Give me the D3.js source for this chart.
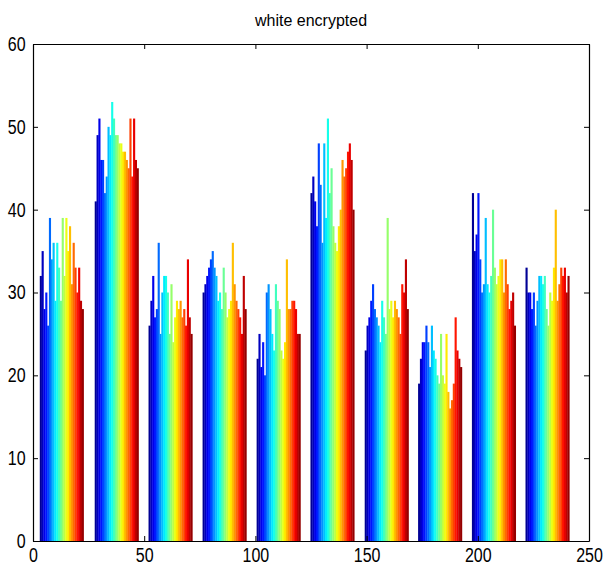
<!DOCTYPE html>
<html>
<head>
<meta charset="utf-8">
<script src="https://cdn.jsdelivr.net/npm/d3@7"></script>
<style>
  body { margin: 0; background: #fff; }
  text { font-family: "Liberation Sans", Arial, sans-serif; }
</style>
</head>
<body>
<script>
//Group positions on the x axis (one group = 24 bars)
var groupX = [12.9, 37.6, 61.8, 86.1, 110.4, 134.6, 159.0, 183.0, 207.2, 231.3];

//Bar heights, one array per group
var g1  = [32, 35, 28, 30, 26, 39, 34, 36, 29, 36, 33, 29, 39, 32, 39, 35, 38, 31, 36, 33, 30, 33, 29, 28];
var g2  = [41, 49, 51, 46, 46, 42, 44, 50, 49, 53, 51, 49, 49, 48, 48, 47, 47, 46, 45, 51, 44, 51, 46, 45];
var g3  = [26, 29, 32, 27, 28, 36, 25, 30, 32, 32, 30, 25, 31, 24, 27, 29, 28, 29, 27, 28, 26, 34, 27, 25];
var g4  = [30, 31, 32, 33, 34, 35, 33, 32, 29, 30, 28, 33, 30, 27, 28, 29, 36, 31, 29, 28, 27, 25, 32, 28];
var g5  = [22, 25, 21, 24, 20, 30, 31, 28, 25, 23, 31, 29, 28, 23, 22, 24, 34, 28, 28, 29, 29, 28, 25, 25];
var g6  = [42, 44, 41, 38, 48, 43, 36, 48, 39, 51, 42, 45, 38, 36, 35, 38, 40, 46, 44, 45, 47, 48, 46, 40];
var g7  = [23, 26, 27, 29, 31, 28, 27, 26, 24, 29, 27, 25, 39, 28, 29, 27, 29, 28, 27, 25, 31, 30, 34, 28];
var g8  = [19, 22, 24, 24, 26, 24, 21, 26, 23, 22, 20, 19, 25, 20, 19, 25, 18, 16, 17, 19, 27, 23, 22, 21];
var g9  = [42, 35, 37, 42, 34, 30, 31, 39, 31, 30, 32, 40, 33, 31, 32, 34, 34, 30, 34, 31, 28, 29, 30, 26];
var g10 = [33, 30, 30, 28, 30, 26, 29, 32, 32, 31, 32, 28, 26, 30, 29, 33, 40, 29, 31, 33, 32, 33, 30, 32];
var groups = [g1, g2, g3, g4, g5, g6, g7, g8, g9, g10];

//Tick labels
var xTicks = [0, 50, 100, 150, 200, 250];
var yTicks = [0, 10, 20, 30, 40, 50, 60];
var title = "white encrypted";

//Plot area
var margin = {top: 44, right: 17, bottom: 26, left: 33};
var W = 606, H = 567;
var w = W - margin.left - margin.right;
var h = H - margin.top - margin.bottom;

var nBars = g1.length;
var groupWidth = 19.7;

//MATLAB jet colormap
function jet(t) {
  var c = function (v) { return Math.max(0, Math.min(1, v)); };
  var r = c(1.5 - Math.abs(4 * t - 3));
  var g = c(1.5 - Math.abs(4 * t - 2));
  var b = c(1.5 - Math.abs(4 * t - 1));
  return d3.rgb(r * 255, g * 255, b * 255).toString();
}

var scaleX = d3.scaleLinear().domain([0, 250]).range([0, w]);
var scaleY = d3.scaleLinear().domain([0, 60]).range([h, 0]);

var svg = d3.select('body')
  .append('svg')
  .attr('width', W)
  .attr('height', H);

var g = svg.append('g')
  .attr('transform', 'translate(' + margin.left + ',' + margin.top + ')');

//Flatten into one record per bar
var bars = [];
groups.forEach(function (vals, gi) {
  vals.forEach(function (v, i) {
    var x0 = groupX[gi] - groupWidth / 2 + i * groupWidth / nBars;
    bars.push({x0: x0, x1: x0 + groupWidth / nBars, v: v, i: i});
  });
});

g.selectAll('rect.bar')
  .data(bars)
  .enter()
  .append('rect')
  .attr('class', 'bar')
  .attr('x', function (d) { return scaleX(d.x0); })
  .attr('width', function (d) { return scaleX(d.x1) - scaleX(d.x0) + 0.3; })
  .attr('y', function (d) { return scaleY(d.v); })
  .attr('height', function (d) { return scaleY(0) - scaleY(d.v); })
  .attr('fill', function (d) { return jet((d.i + 0.5) / nBars); });

//Axes, ticks inside like MATLAB
var xAxis = d3.axisBottom(scaleX).tickValues(xTicks).tickSizeInner(-5).tickSizeOuter(0).tickPadding(7);
var xTop = d3.axisTop(scaleX).tickValues(xTicks).tickSizeInner(-5).tickSizeOuter(0).tickFormat('');
var yAxis = d3.axisLeft(scaleY).tickValues(yTicks).tickSizeInner(-5).tickSizeOuter(0).tickPadding(8);
var yRight = d3.axisRight(scaleY).tickValues(yTicks).tickSizeInner(-5).tickSizeOuter(0).tickFormat('');

g.append('g').attr('class', 'xa').attr('transform', 'translate(0,' + h + ')').call(xAxis);
g.append('g').call(xTop);
g.append('g').attr('class', 'ya').call(yAxis);
g.append('g').attr('transform', 'translate(' + w + ',0)').call(yRight);

g.selectAll('.domain').attr('stroke', '#000').attr('stroke-width', 1.2);
g.selectAll('.tick line').attr('stroke', '#000');

//Narrow, tall tick labels like the MATLAB screen font
g.selectAll('.tick text')
  .attr('font-size', '20px')
  .attr('fill', '#000')
  .attr('font-family', '"Liberation Sans", Arial, sans-serif');
g.selectAll('.xa .tick text').attr('transform', 'scale(0.8,1)');
g.selectAll('.ya .tick text').attr('transform', 'translate(-1,0) scale(0.8,1)');

//Title
svg.append('text')
  .attr('x', margin.left + w / 2)
  .attr('y', 26)
  .attr('text-anchor', 'middle')
  .attr('font-size', '16px')
  .attr('fill', '#000')
  .text(title);
</script>
</body>
</html>
